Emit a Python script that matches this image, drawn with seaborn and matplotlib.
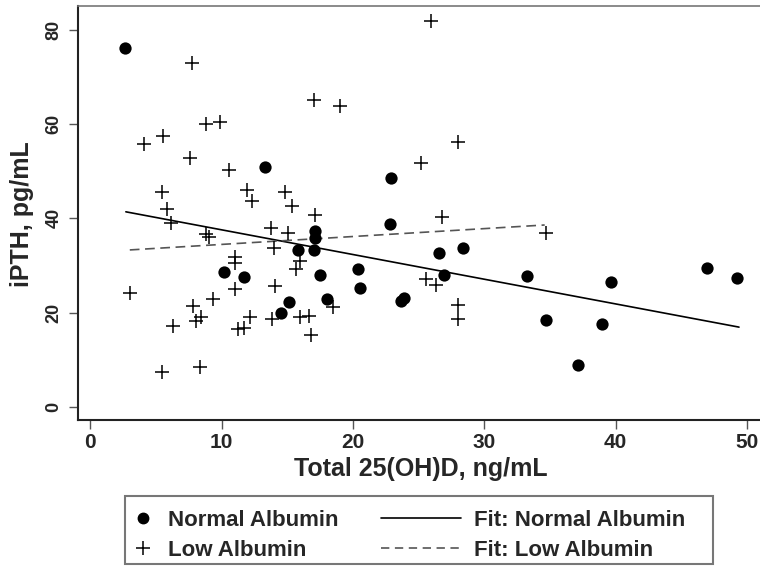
import matplotlib
matplotlib.use("Agg")
import matplotlib.pyplot as plt
import numpy as np
import pandas as pd
import seaborn as sns
from matplotlib.lines import Line2D
from matplotlib.patches import Rectangle

# ---------------- data ----------------
normal_x = [2.65, 13.28, 22.87, 22.79, 17.09, 17.09, 15.82, 17.00, 26.55, 28.37,
            10.16, 11.71, 20.38, 17.47, 26.93, 20.51, 15.11, 18.02, 23.68, 23.91,
            14.50, 33.24, 39.63, 46.94, 49.25, 34.67, 38.93, 37.10]
normal_y = [76.3, 50.9, 48.5, 38.8, 37.3, 35.8, 33.2, 33.2, 32.6, 33.7,
            28.7, 27.5, 29.2, 27.9, 27.9, 25.2, 22.3, 22.9, 22.5, 23.0,
            19.9, 27.7, 26.4, 29.5, 27.4, 18.4, 17.5, 8.9]

low_x = [7.70, 8.77, 9.86, 4.09, 5.52, 7.55, 10.54, 5.49, 11.96, 12.31,
         5.85, 6.13, 8.77, 9.02, 3.03, 11.02, 11.02, 11.02, 9.35, 7.82,
         8.08, 8.41, 6.30, 11.25, 11.71, 12.19, 5.42, 8.33, 25.97, 17.01,
         19.01, 27.99, 25.20, 14.83, 15.39, 17.09, 26.80, 13.74, 15.05, 13.99,
         15.94, 15.69, 25.53, 26.35, 14.09, 18.48, 27.99, 27.99, 13.84, 15.94,
         16.65, 16.78, 34.72]
low_y = [73.0, 60.1, 60.4, 55.8, 57.5, 52.9, 50.3, 45.6, 46.1, 43.7,
         41.9, 39.0, 36.6, 36.1, 24.1, 31.8, 30.6, 25.0, 22.8, 21.4,
         18.2, 19.0, 17.2, 16.4, 16.7, 19.1, 7.4, 8.5, 82.0, 65.2,
         63.9, 56.3, 51.7, 45.6, 42.7, 40.7, 40.2, 37.9, 36.8, 33.7,
         31.0, 29.2, 27.1, 25.9, 25.7, 21.1, 21.6, 18.6, 18.6, 19.1,
         19.3, 15.2, 37.0]

fit_normal_x = [2.7, 49.4]
fit_normal_y = [41.4, 16.9]
fit_low_x = [3.0, 34.6]
fit_low_y = [33.3, 38.6]

x_ticks = [0, 10, 20, 30, 40, 50]
y_ticks = [0, 20, 40, 60, 80]
x_label = "Total 25(OH)D, ng/mL"
y_label = "iPTH, pg/mL"
legend_labels = ["Normal Albumin", "Low Albumin", "Fit: Normal Albumin", "Fit: Low Albumin"]

# ---------------- style ----------------
sns.set_theme(style="ticks")
plt.rcParams["font.family"] = ["Liberation Sans", "DejaVu Sans"]
plt.rcParams["font.weight"] = "bold"
plt.rcParams["lines.scale_dashes"] = False

fig = plt.figure(figsize=(7.6, 5.67), dpi=100)
ax = fig.add_axes([0.1022, 0.2593, 0.8978, 0.7307])

df_normal = pd.DataFrame({"x": normal_x, "y": normal_y})
df_low = pd.DataFrame({"x": low_x, "y": low_y})

sns.scatterplot(data=df_normal, x="x", y="y", ax=ax, marker="o", s=78,
                color="black", edgecolor="black", linewidth=0, zorder=3)
sns.scatterplot(data=df_low, x="x", y="y", ax=ax, marker="+", s=105,
                color="black", linewidth=1.1, zorder=3)
sns.lineplot(x=fit_normal_x, y=fit_normal_y, ax=ax, color="black", lw=1.2, zorder=2)
sns.lineplot(x=fit_low_x, y=fit_low_y, ax=ax, color="#555555", lw=1.2, zorder=2)
ax.lines[-1].set_linestyle((0, (7, 4)))

ax.set_xlim(-0.97, 51.0)
ax.set_ylim(-2.83, 85.2)

ax.spines["right"].set_visible(False)
ax.spines["top"].set_color("#777777")
ax.spines["top"].set_linewidth(1.2)
for s in ("left", "bottom"):
    ax.spines[s].set_color("#222222")
    ax.spines[s].set_linewidth(1.5)

ax.set_xticks(x_ticks)
ax.set_xticklabels([str(t) for t in x_ticks], fontsize=15, fontweight="bold")
ax.set_yticks(y_ticks)
ax.set_yticklabels([str(t) for t in y_ticks], fontsize=13, fontweight="bold",
                   rotation=90, va="center")
ax.tick_params(axis="both", direction="out", length=6.5, width=1, color="#555555")
ax.tick_params(axis="x", pad=3)
ax.tick_params(axis="y", pad=4.5)

ax.set_xlabel(x_label, fontsize=18, fontweight="bold")
ax.set_ylabel(y_label, fontsize=18, fontweight="bold")
ax.xaxis.set_label_coords(0.5024, -0.118)
ax.xaxis.label.set_va("center")
ax.yaxis.set_label_coords(-0.0816, 0.497)
ax.yaxis.label.set_va("center")

# ---------------- legend ----------------
fig.patches.append(Rectangle((0.1645, 0.0048), 0.7733, 0.121, transform=fig.transFigure,
                             facecolor="white", edgecolor="#777777", lw=1.5, zorder=0))
prop = {"weight": "bold", "size": 16}
h_markers = [Line2D([], [], marker="o", ls="none", color="black", markersize=7.5),
             Line2D([], [], marker="+", ls="none", color="black", markersize=10,
                    markeredgewidth=1.1)]
h_lines = [Line2D([], [], color="black", lw=1.2),
           Line2D([], [], color="#555555", lw=1.2, ls=(0, (6, 4)))]
legA = fig.legend(h_markers, legend_labels[:2], loc="upper left",
                  bbox_to_anchor=(131.9 / 760, 1 - 510 / 567), frameon=False, prop=prop,
                  handlelength=1.0, handletextpad=0.64, borderpad=0, borderaxespad=0,
                  labelspacing=0.4)
legB = fig.legend(h_lines, legend_labels[2:], loc="upper left",
                  bbox_to_anchor=(381 / 760, 1 - 510 / 567), frameon=False, prop=prop,
                  handlelength=3.6, handletextpad=0.59, borderpad=0, borderaxespad=0,
                  labelspacing=0.4)

fig.savefig("out.png", dpi=100)
